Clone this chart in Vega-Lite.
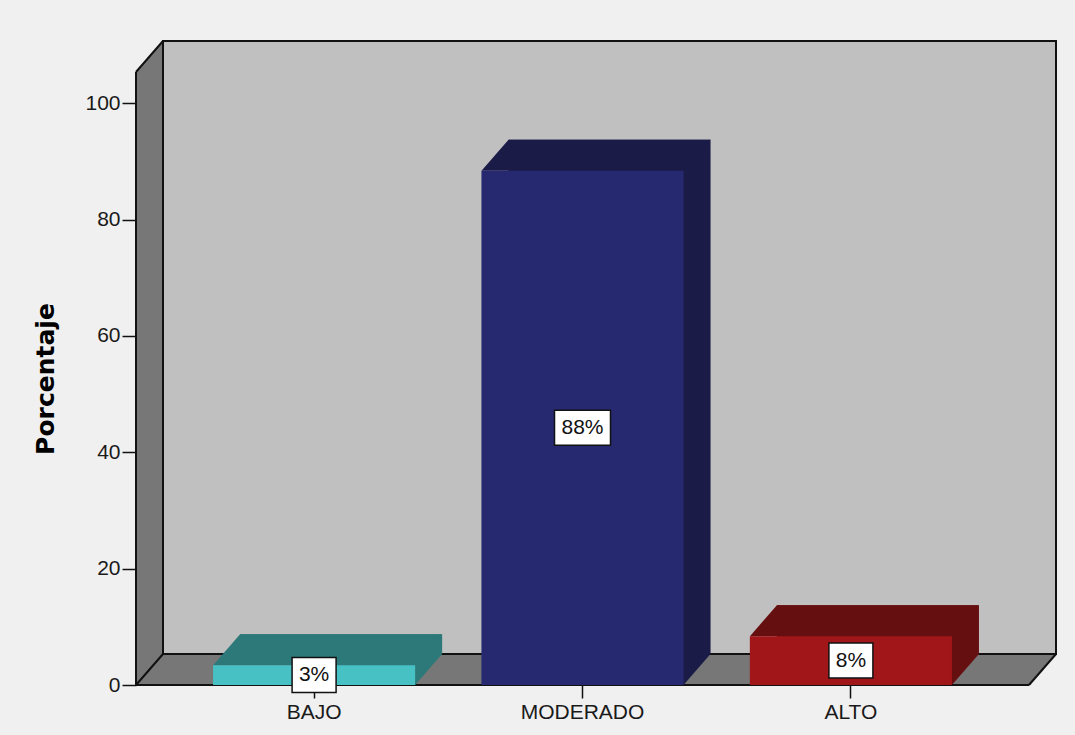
{
  "$schema": "https://vega.github.io/schema/vega-lite/v6.json",
  "width": 893,
  "height": 613,
  "autosize": {"type": "none"},
  "padding": {"left": 136, "top": 72, "right": 46, "bottom": 50},
  "background": "#f0f0f0",
  "config": {
    "view": {"stroke": null},
    "font": "Liberation Sans",
    "axis": {"domain": false, "grid": false, "tickColor": "#111111", "tickWidth": 1.5, "labelFont": "Liberation Sans", "labelFontSize": 21, "labelColor": "#1a1a1a"},
    "axisX": {"tickSize": 13, "labelPadding": 3, "labelAngle": 0},
    "axisY": {"tickSize": 14, "labelPadding": 2, "titleFont": "DejaVu Sans", "titleFontSize": 25, "titleFontWeight": "bold", "titleColor": "#000000", "titlePadding": 26}
  },
  "datasets": {
    "niveles": [
      {"categoria": "BAJO", "porcentaje": 3.4, "etiqueta": "3%"},
      {"categoria": "MODERADO", "porcentaje": 88.4, "etiqueta": "88%"},
      {"categoria": "ALTO", "porcentaje": 8.4, "etiqueta": "8%"}
    ]
  },
  "resolve": {"scale": {"x": "independent"}},
  "layer": [
    {
      "data": {"values": [{"marco": "caja"}]},
      "layer": [
        {
          "mark": {"type": "rect", "fill": "#777777", "strokeWidth": 0},
          "encoding": {
            "x": {"datum": 0, "type": "quantitative", "scale": {"domain": [0, 1]}, "axis": null},
            "x2": {"datum": 1},
            "y": {"datum": 0, "type": "quantitative", "scale": {"domain": [0, 105.36], "nice": false}, "title": "Porcentaje"},
            "y2": {"datum": 105.36}
          }
        },
        {
          "mark": {"type": "point", "shape": "M0,0L27,-31L27,0Z", "size": 4, "filled": true, "fill": "#777777", "strokeWidth": 0, "opacity": 1},
          "encoding": {
            "x": {"datum": 0, "type": "quantitative", "scale": {"domain": [0, 1]}, "axis": null},
            "y": {"datum": 105.36, "type": "quantitative", "scale": {"domain": [0, 105.36], "nice": false}}
          }
        },
        {
          "mark": {"type": "point", "shape": "M0,0L27,-31L0,-31Z", "size": 4, "filled": true, "fill": "#777777", "strokeWidth": 0, "opacity": 1},
          "encoding": {
            "x": {"datum": 1, "type": "quantitative", "scale": {"domain": [0, 1]}, "axis": null},
            "y": {"datum": 0, "type": "quantitative", "scale": {"domain": [0, 105.36], "nice": false}}
          }
        },
        {
          "mark": {"type": "rect", "fill": "#c0c0c0", "stroke": "#111111", "strokeWidth": 2, "xOffset": 27, "x2Offset": 27, "yOffset": -31, "y2Offset": -31},
          "encoding": {
            "x": {"datum": 0, "type": "quantitative", "scale": {"domain": [0, 1]}, "axis": null},
            "x2": {"datum": 1},
            "y": {"datum": 0, "type": "quantitative", "scale": {"domain": [0, 105.36], "nice": false}},
            "y2": {"datum": 105.36}
          }
        },
        {
          "mark": {"type": "point", "shape": "M0,0L27,-31", "size": 4, "filled": false, "stroke": "#111111", "strokeWidth": 2, "opacity": 1},
          "encoding": {
            "x": {"datum": 0, "type": "quantitative", "scale": {"domain": [0, 1]}, "axis": null},
            "y": {"datum": 105.36, "type": "quantitative", "scale": {"domain": [0, 105.36], "nice": false}}
          }
        },
        {
          "mark": {"type": "point", "shape": "M0,0L27,-31", "size": 4, "filled": false, "stroke": "#111111", "strokeWidth": 2, "opacity": 1},
          "encoding": {
            "x": {"datum": 0, "type": "quantitative", "scale": {"domain": [0, 1]}, "axis": null},
            "y": {"datum": 0, "type": "quantitative", "scale": {"domain": [0, 105.36], "nice": false}}
          }
        },
        {
          "mark": {"type": "point", "shape": "M0,0L27,-31", "size": 4, "filled": false, "stroke": "#111111", "strokeWidth": 2, "opacity": 1},
          "encoding": {
            "x": {"datum": 1, "type": "quantitative", "scale": {"domain": [0, 1]}, "axis": null},
            "y": {"datum": 0, "type": "quantitative", "scale": {"domain": [0, 105.36], "nice": false}}
          }
        },
        {
          "mark": {"type": "rule", "stroke": "#111111", "strokeWidth": 2},
          "encoding": {
            "y": {"datum": 0, "type": "quantitative", "scale": {"domain": [0, 105.36], "nice": false}}
          }
        },
        {
          "mark": {"type": "rule", "stroke": "#111111", "strokeWidth": 2},
          "encoding": {
            "x": {"datum": 0, "type": "quantitative", "scale": {"domain": [0, 1]}, "axis": null}
          }
        }
      ]
    },
    {
      "data": {"name": "niveles"},
      "resolve": {"scale": {"color": "independent", "shape": "independent"}},
      "encoding": {
        "x": {"field": "categoria", "type": "nominal", "sort": ["BAJO", "MODERADO", "ALTO"], "scale": {"paddingInner": 0.247, "paddingOuter": 0.287}, "axis": {"title": null}}
      },
      "layer": [
        {
          "mark": {"type": "bar", "xOffset": 27, "x2Offset": 27, "yOffset": -31, "y2Offset": -31, "strokeWidth": 0},
          "encoding": {
            "y": {"field": "porcentaje", "type": "quantitative", "scale": {"domain": [0, 105.36], "nice": false}, "axis": {"values": [0, 20, 40, 60, 80, 100]}, "title": "Porcentaje"},
            "color": {"field": "categoria", "type": "nominal", "scale": {"domain": ["BAJO", "MODERADO", "ALTO"], "range": ["#2d7878", "#1b1b48", "#660f11"]}, "legend": null}
          }
        },
        {
          "mark": {"type": "point", "shape": "M-101,0L101,0L128,-31L-74,-31Z", "size": 4, "filled": true, "strokeWidth": 0, "opacity": 1},
          "encoding": {
            "y": {"field": "porcentaje", "type": "quantitative", "scale": {"domain": [0, 105.36], "nice": false}},
            "color": {"field": "categoria", "type": "nominal", "scale": {"domain": ["BAJO", "MODERADO", "ALTO"], "range": ["#2d7878", "#1b1b48", "#660f11"]}, "legend": null}
          }
        },
        {
          "mark": {"type": "point", "shape": "M0,0L101,0L128,-31L0,-31Z", "size": 4, "filled": true, "strokeWidth": 0, "opacity": 1},
          "encoding": {
            "y": {"datum": 0, "type": "quantitative", "scale": {"domain": [0, 105.36], "nice": false}},
            "color": {"field": "categoria", "type": "nominal", "scale": {"domain": ["BAJO", "MODERADO", "ALTO"], "range": ["#2d7878", "#1b1b48", "#660f11"]}, "legend": null}
          }
        },
        {
          "mark": {"type": "bar", "strokeWidth": 0},
          "encoding": {
            "y": {"field": "porcentaje", "type": "quantitative", "scale": {"domain": [0, 105.36], "nice": false}},
            "color": {"field": "categoria", "type": "nominal", "scale": {"domain": ["BAJO", "MODERADO", "ALTO"], "range": ["#47c1c4", "#262870", "#a01619"]}, "legend": null}
          }
        },
        {
          "mark": {"type": "point", "size": 4, "filled": true, "fill": "#ffffff", "stroke": "#111111", "strokeWidth": 1.5, "opacity": 1},
          "encoding": {
            "y": {"field": "porcentaje", "type": "quantitative", "stack": "zero", "bandPosition": 0.5, "scale": {"domain": [0, 105.36], "nice": false}},
            "shape": {"field": "categoria", "type": "nominal", "scale": {"domain": ["BAJO", "MODERADO", "ALTO"], "range": ["M-22,-17.5L22,-17.5L22,17.5L-22,17.5Z", "M-28,-17.5L28,-17.5L28,17.5L-28,17.5Z", "M-22,-17.5L22,-17.5L22,17.5L-22,17.5Z"]}, "legend": null}
          }
        },
        {
          "mark": {"type": "text", "fontSize": 21, "font": "Liberation Sans", "color": "#111111", "baseline": "middle", "align": "center"},
          "encoding": {
            "y": {"field": "porcentaje", "type": "quantitative", "stack": "zero", "bandPosition": 0.5, "scale": {"domain": [0, 105.36], "nice": false}},
            "text": {"field": "etiqueta"}
          }
        }
      ]
    }
  ]
}
